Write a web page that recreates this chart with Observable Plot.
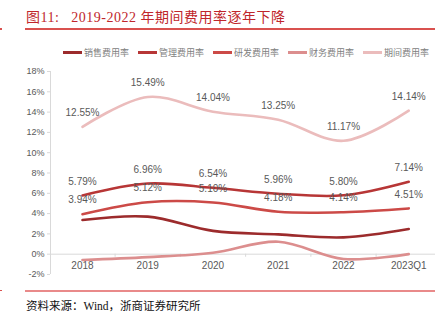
<!DOCTYPE html>
<html><head><meta charset="utf-8">
<script src="https://cdn.jsdelivr.net/npm/d3@7"></script>
<script src="https://cdn.jsdelivr.net/npm/@observablehq/plot@0.6"></script>
<style>
body{margin:0;background:#fff;}
#wrap{position:relative;width:446px;height:330px;overflow:hidden;background:#fff;}
#title{position:absolute;left:26px;top:6px;font-family:"Liberation Serif","Noto Sans CJK SC",serif;font-size:14px;letter-spacing:0.5px;color:#c0262b;white-space:nowrap;}
#tline{position:absolute;left:25px;top:28px;width:410px;height:1.5px;background:#d9514f;}
#legend{position:absolute;left:63px;top:46px;display:flex;gap:9px;font-family:"Noto Sans CJK SC",sans-serif;font-size:9px;color:#808080;white-space:nowrap;}
.li{display:flex;align-items:center;}
.sw{width:19px;height:3px;margin-right:2px;}
#chart{position:absolute;left:0;top:62px;}
#bline{position:absolute;left:25px;top:289.5px;width:410px;height:2px;background:#e98a8a;}
#caption{position:absolute;left:26px;top:297px;font-family:"Liberation Serif","Noto Sans CJK SC",serif;font-size:11.5px;color:#111;white-space:nowrap;}
.mk{position:absolute;left:0;width:2px;height:1.5px;background:#d9514f;}
</style></head>
<body>
<div id="wrap">
  <div id="title">图11:&nbsp;&nbsp; 2019-2022 年期间费用率逐年下降</div>
  <div id="tline"></div>
  <div class="mk" style="top:28px"></div>
  <div id="legend"></div>
  <div id="chart"></div>
  <div id="bline"></div>
  <div class="mk" style="top:289.5px"></div>
  <div id="caption">资料来源：Wind，浙商证券研究所</div>
</div>
<script>
const years = ["2018","2019","2020","2021","2022","2023Q1"];
const seriesNames = ["销售费用率","管理费用率","研发费用率","财务费用率","期间费用率"];
const sales  = [3.37, 3.70, 2.30, 1.95, 1.66, 2.48];
const mgmt   = [5.79, 6.96, 6.54, 5.96, 5.80, 7.14];
const rd     = [3.94, 5.12, 5.10, 4.18, 4.14, 4.51];
const fin    = [-0.57, -0.29, 0.15, 1.23, -0.47, 0.01];
const period = [12.55, 15.49, 14.04, 13.25, 11.17, 14.14];
const labeled = ["管理费用率","研发费用率","期间费用率"];
const yTicks = [-2,0,2,4,6,8,10,12,14,16,18];
const colors = ["#9c2b2c","#b73636","#cc4a47","#dc8e8e","#ebbcbc"];

const valuesBySeries = [sales, mgmt, rd, fin, period];
const rows = [];
seriesNames.forEach((s, si) => {
  valuesBySeries[si].forEach((v, i) => rows.push({series: s, i, year: years[i], value: v}));
});
const labelRows = rows.filter(d => labeled.includes(d.series));
const colorOf = Object.fromEntries(seriesNames.map((s, i) => [s, colors[i]]));

// legend
const lg = document.getElementById("legend");
seriesNames.forEach((s, i) => {
  const it = document.createElement("div"); it.className = "li";
  const sw = document.createElement("span"); sw.className = "sw"; sw.style.background = colors[i];
  const tx = document.createElement("span"); tx.textContent = s;
  it.appendChild(sw); it.appendChild(tx); lg.appendChild(it);
});

const xIdx = years.map((d, i) => i);
const bounds = [0.5, 1.5, 2.5, 3.5, 4.5];
const xMin = -0.49, xMax = 5.41;
const tickLen = 0.046;

const chart = Plot.plot({
  width: 446,
  height: 220,
  marginLeft: 50,
  marginRight: 11,
  marginTop: 9,
  marginBottom: 8,
  style: {fontFamily: "'Liberation Sans Narrow','Liberation Sans',sans-serif", background: "transparent"},
  x: {domain: [xMin, xMax], axis: null},
  y: {domain: [-2, 18], axis: null},
  marks: [
    Plot.ruleX([xMin], {y1: -2, y2: 18, stroke: "#d9d9d9"}),
    Plot.ruleY(yTicks, {y: d => d, x1: xMin - tickLen, x2: xMin, stroke: "#d9d9d9"}),
    Plot.text(yTicks, {x: xMin, y: d => d, dx: -6, text: d => d + "%", textAnchor: "end", fill: "#595959", fontSize: 9}),
    Plot.ruleY([0], {x1: xMin, x2: xMax, stroke: "#d9d9d9"}),
    Plot.ruleX(bounds, {y1: 0, y2: -0.3, stroke: "#d9d9d9"}),
    Plot.text(xIdx, {x: d => d, y: 0, dy: 11.5, text: d => years[d], fill: "#595959", fontSize: 10}),
    Plot.line(rows, {x: "i", y: "value", z: "series", stroke: d => colorOf[d.series], strokeWidth: 2.6, curve: "catmull-rom"}),
    Plot.text(labelRows, {x: "i", y: "value", dy: -14, text: d => d.value.toFixed(2) + "%", fill: "#595959", fontSize: 10})
  ]
});
document.getElementById("chart").appendChild(chart);
</script>
</body></html>
